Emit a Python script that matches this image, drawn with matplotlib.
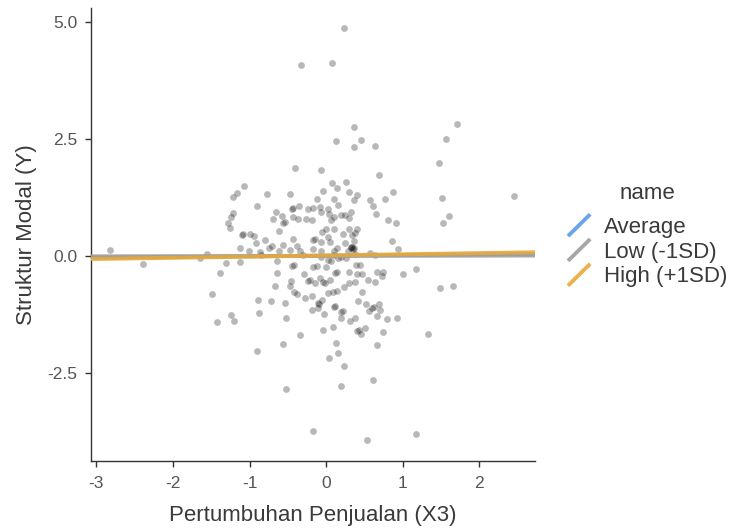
import matplotlib
matplotlib.use('Agg')
import matplotlib.pyplot as plt
from matplotlib.lines import Line2D
from matplotlib.legend_handler import HandlerBase
import numpy as np

plt.rcParams['font.family'] = ['Liberation Sans', 'DejaVu Sans']

# observed data: sales growth (X3) vs capital structure (Y)
x3 = [-2.82, 0.24, -0.33, 0.08, 0.36, 0.13, 0.46, 0.37, 0.64, 1.71,
      1.56, 1.48, 2.46, 1.52, 1.61, 1.53, -0.40, -0.07, 0.69, -1.07,
      -1.16, -1.21, -0.77, -0.47, 0.08, 0.26, 0.14, -0.04, 0.30, 0.40,
      0.37, -0.12, 0.10, 0.16, 0.58, 0.61, 0.77, 0.88, 0.65, 0.81,
      0.91, 0.86, 0.94, 0.57, -0.90, -1.22, -1.24, -1.28, -1.26, -1.10,
      -1.00, -0.94, -0.92, -0.80, -0.70, -0.75, -0.86, -1.12, -1.01, -0.65,
      -0.57, -0.69, -0.56, -0.61, -0.45, -0.36, -0.43, -0.37, -0.24, -0.17,
      -0.08, 0.02, -0.07, -0.26, -0.18, 0.04, 0.10, 0.20, 0.25, 0.32,
      0.30, 0.07, 0.00, 0.10, -0.05, 0.02, 0.30, 0.40, 0.22, 0.38,
      0.34, -0.17, -0.07, 0.05, -0.43, -0.56, -0.38, 0.25, 0.37, 0.32,
      0.35, -0.47, -0.34, -0.62, -0.07, 0.10, 0.14, 0.28, -1.56, -2.39,
      -1.64, -1.31, -1.39, -1.12, -1.49, -1.24, -1.42, -1.20, -0.90, -0.89,
      -0.88, -0.72, -0.67, -0.64, -0.64, -0.54, -0.52, -0.56, -0.52, -0.34,
      -0.44, -0.46, -0.47, -0.42, -0.38, -0.29, -0.27, -0.23, -0.18, -0.18,
      -0.17, -0.12, -0.14, -0.11, -0.11, -0.05, -0.08, -0.04, 0.00, 0.05,
      0.02, 0.09, 0.14, -0.03, 0.10, 0.20, 0.19, 0.09, -0.04, 0.13,
      0.15, 0.04, 0.23, 0.19, -0.17, 0.53, 1.18, 0.61, 0.67, 0.31,
      0.38, 0.51, 0.41, 0.46, 0.74, 0.79, 0.93, 0.67, 0.70, 0.60,
      0.56, 0.52, 0.69, 0.42, 0.47, 0.55, 0.64, 0.38, 0.30, 0.23,
      0.30, 0.41, 0.47, 0.39, 0.44, 0.12, 0.03, 0.06, 0.26, 0.67,
      0.73, 0.74, 1.00, 1.17, 1.49, 1.66, 1.33, 0.64, -1.08, -0.54,
      -0.43, -0.15, 0.34, 0.37, -0.42, -0.21, -0.09, -0.02, 0.12, 0.22,
      0.43, 0.62, 0.14, -0.17, 0.33, -0.30, -0.07, 0.10, 0.20, 0.38,
      -0.85, 0.15]
struktur = [0.13, 4.88, 4.09, 4.13, 2.77, 2.46, 2.49, 2.33, 2.36, 2.83,
            2.51, 1.98, 1.29, 1.23, 0.85, 0.71, 1.88, 1.83, 1.74, 1.50,
            1.34, 1.27, 1.33, 1.33, 1.56, 1.59, 1.45, 1.38, 1.36, 1.31,
            1.19, 1.21, 1.21, 1.09, 1.19, 1.07, 1.21, 1.36, 0.90, 0.77,
            0.71, 0.31, 0.14, 0.07, 1.06, 0.91, 0.84, 0.71, 0.60, 0.45,
            0.46, 0.42, 0.28, 0.34, 0.22, 0.16, 0.09, 0.16, 0.11, 0.95,
            0.86, 0.79, 0.70, 0.54, 1.01, 1.06, 0.84, 0.79, 1.00, 1.02,
            1.04, 1.00, 0.94, 0.79, 0.76, 0.89, 0.83, 0.88, 0.88, 0.95,
            0.81, 0.76, 0.57, 0.58, 0.51, 0.41, 0.57, 0.58, 0.46, 0.49,
            0.44, 0.34, 0.29, 0.29, 0.37, 0.24, 0.22, 0.27, 0.31, 0.19,
            0.14, 0.13, 0.11, 0.11, 0.11, 0.11, 0.16, 0.11, 0.04, -0.17,
            -0.05, -0.15, -0.36, -0.14, -0.81, -1.27, -1.41, -1.40, -2.04, -0.95,
            -1.23, -0.96, -0.64, -0.37, -0.10, -1.00, -1.34, -1.89, -2.85, -1.69,
            -0.21, -0.54, -0.64, -0.78, -0.81, -0.39, -0.91, -0.53, -0.86, -1.16,
            -0.23, -0.21, -0.59, -1.01, -1.12, -0.94, -0.48, -0.55, -0.23, -0.51,
            -0.80, -0.78, -0.76, -1.24, -1.10, -1.21, -1.34, -1.53, -1.58, -1.87,
            -2.08, -2.18, -2.35, -2.79, -3.76, -3.95, -3.82, -2.66, -1.91, -1.40,
            -1.34, -1.55, -1.61, -1.67, -1.64, -1.35, -1.34, -1.28, -1.16, -1.12,
            -1.18, -1.03, -1.03, -0.97, -0.78, -0.52, -0.56, -0.55, -0.59, -0.67,
            -0.35, -0.38, -0.38, -0.19, -0.19, -0.37, -0.09, -0.10, -0.04, -0.34,
            -0.44, -0.35, -0.38, -0.27, -0.68, -0.65, -1.68, 0.01, 0.46, 0.72,
            1.03, 0.36, 0.20, 0.16, -0.19, -0.52, -1.03, -0.57, -1.08, -1.19,
            -1.59, -1.10, -0.35, 0.14, 0.16, 0.03, -0.03, 0.02, -0.02, 0.05,
            0.02, -0.05]

# simple slopes of X3 at the moderator levels
levels = ['Average', 'Low (-1SD)', 'High (+1SD)']
intercepts = [0.005, 0.0, 0.01]
slopes = [0.014, 0.003, 0.025]
colors = ['#5b9be6', '#9e9e9e', '#e8a93a']


class DiagonalKey(HandlerBase):
    # ggplot-style key: a short slanted line
    def create_artists(self, legend, orig, xdescent, ydescent, width, height,
                       fontsize, trans):
        ln = Line2D([-xdescent, -xdescent + width],
                    [-ydescent - 0.05 * height, -ydescent + 1.05 * height],
                    color=orig.get_color(), lw=orig.get_linewidth(),
                    solid_capstyle='butt', alpha=orig.get_alpha())
        ln.set_transform(trans)
        return [ln]


fig = plt.figure(figsize=(7.31, 5.31), dpi=100)
ax = fig.add_axes([0.1245, 0.132, 0.6075, 0.853])

ax.scatter(x3, struktur, s=24, color='black', alpha=0.28, linewidths=0,
           zorder=2)

xlim = (-3.07, 2.73)
xx = np.linspace(xlim[0], xlim[1], 50)
handles = []
for name, b0, b1, c in zip(levels, intercepts, slopes, colors):
    h, = ax.plot(xx, b0 + b1 * xx, color=c, lw=2.8, alpha=0.9, zorder=3,
                 solid_capstyle='butt', label=name)
    handles.append(h)

ax.set_xlim(*xlim)
ax.set_ylim(-4.39, 5.31)
ax.set_xticks([-3, -2, -1, 0, 1, 2])
ax.set_xticklabels(['-3', '-2', '-1', '0', '1', '2'])
ax.set_yticks([-2.5, 0, 2.5, 5.0])
ax.set_yticklabels(['-2.5', '0.0', '2.5', '5.0'])

for side in ['top', 'right']:
    ax.spines[side].set_visible(False)
for side in ['left', 'bottom']:
    ax.spines[side].set_color('#333333')
    ax.spines[side].set_linewidth(1.0)
ax.tick_params(length=4, width=1, color='#333333', labelcolor='#555555',
               labelsize=12.5)
ax.tick_params(axis='y', pad=6)
ax.tick_params(axis='x', pad=7)

ax.set_xlabel('Pertumbuhan Penjualan (X3)', fontsize=16, color='#3a3a3a',
              labelpad=10)
ax.set_ylabel('Struktur Modal (Y)', fontsize=16, color='#3a3a3a', labelpad=7)

leg = fig.legend(handles=handles, labels=levels, title='name',
                 handler_map={Line2D: DiagonalKey()},
                 loc='center left', bbox_to_anchor=(0.777, 0.557),
                 frameon=False, fontsize=16, title_fontsize=16,
                 handlelength=1.0, handleheight=1.0, handletextpad=0.63,
                 labelspacing=0.1, borderaxespad=0, borderpad=0)
# a bit more room between the title and the keys
leg._legend_box.sep = 8
for t in leg.get_texts():
    t.set_color('#3a3a3a')
leg.get_title().set_color('#3a3a3a')

fig.savefig('out.png', dpi=100)
